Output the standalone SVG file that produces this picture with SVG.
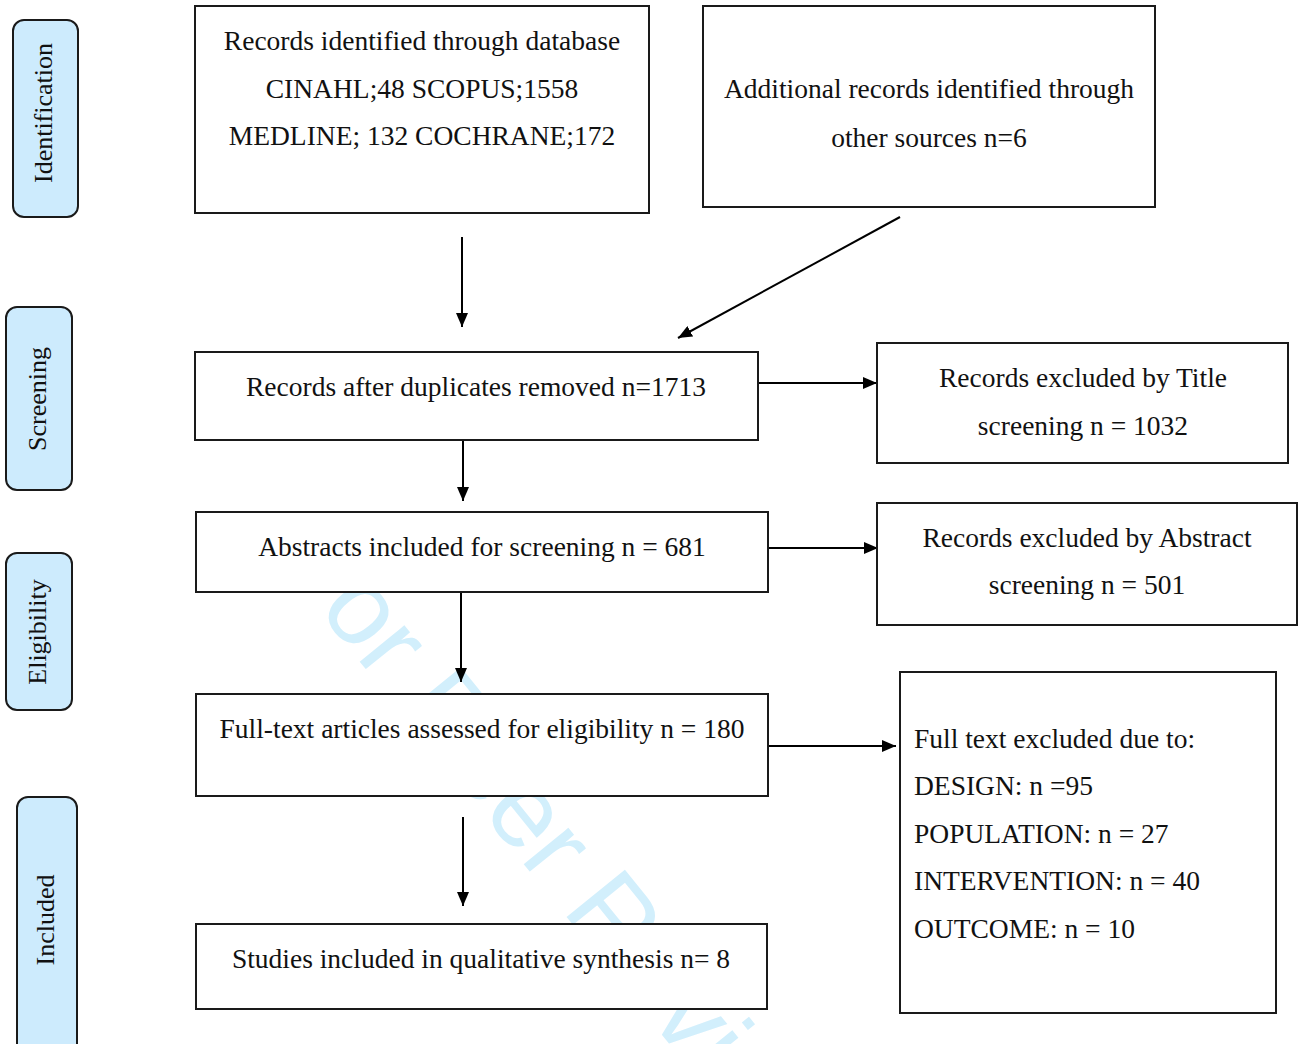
<svg xmlns="http://www.w3.org/2000/svg" width="1306" height="1044" viewBox="0 0 1306 1044">
<style>
.box{fill:#fff;stroke:#1a1a1a;stroke-width:2}
.lab{fill:#cdebfd;stroke:#1a1a1a;stroke-width:2}
.t{font-family:"Liberation Serif","Times New Roman",serif;font-size:27.5px;fill:#111}
.s{font-size:26px}
.c{text-anchor:middle}
.wm{font-family:"Liberation Sans",Arial,sans-serif;font-size:109px;fill:#d2effc}
.ln{stroke:#000;stroke-width:2;fill:none;marker-end:url(#ah)}
</style>
<defs>
<marker id="ah" viewBox="0 0 14 12" refX="14" refY="6" markerWidth="14" markerHeight="12" markerUnits="userSpaceOnUse" orient="auto">
<path d="M0,0 L14,6 L0,12 Z" fill="#000"/>
</marker>
</defs>
<rect width="1306" height="1044" fill="#fff"/>
<text class="wm" transform="translate(275,557) rotate(51)">For Peer Review</text>

<g id="stage-identification"><rect class="lab" x="13" y="20" width="65" height="197" rx="11"/><text class="t s c" transform="translate(52,113) rotate(-90)">Identification</text></g>
<g id="stage-screening"><rect class="lab" x="6" y="307" width="66" height="183" rx="11"/><text class="t s c" transform="translate(46,399) rotate(-90)">Screening</text></g>
<g id="stage-eligibility"><rect class="lab" x="6" y="553" width="66" height="157" rx="11"/><text class="t s c" transform="translate(46,632) rotate(-90)">Eligibility</text></g>
<g id="stage-included"><rect class="lab" x="17" y="797" width="60" height="270" rx="11"/><text class="t s c" transform="translate(54,920) rotate(-90)">Included</text></g>

<g id="connectors">
<line class="ln" x1="462" y1="237" x2="462" y2="327"/>
<line class="ln" x1="900" y1="217" x2="678" y2="338"/>
<line class="ln" x1="758" y1="383" x2="877" y2="383"/>
<line class="ln" x1="463" y1="440" x2="463" y2="501"/>
<line class="ln" x1="768" y1="548" x2="878" y2="548"/>
<line class="ln" x1="461" y1="592" x2="461" y2="682"/>
<line class="ln" x1="768" y1="746" x2="896" y2="746"/>
<line class="ln" x1="463" y1="817" x2="463" y2="906"/>
</g>

<g id="n-database"><rect class="box" x="195" y="6" width="454" height="207"/>
<text class="t c" x="422" y="50">Records identified through database</text>
<text class="t c" x="422" y="98">CINAHL;48 SCOPUS;1558</text>
<text class="t c" x="422" y="145">MEDLINE; 132 COCHRANE;172</text></g>

<g id="n-other"><rect class="box" x="703" y="6" width="452" height="201"/>
<text class="t c" x="929" y="98">Additional records identified through</text>
<text class="t c" x="929" y="147">other sources n=6</text></g>

<g id="n-dedup"><rect class="box" x="195" y="352" width="563" height="88"/>
<text class="t c" x="476" y="396">Records after duplicates removed n=1713</text></g>

<g id="n-excl-title"><rect class="box" x="877" y="343" width="411" height="120"/>
<text class="t c" x="1083" y="387">Records excluded by Title</text>
<text class="t c" x="1083" y="435">screening n = 1032</text></g>

<g id="n-abstracts"><rect class="box" x="196" y="512" width="572" height="80"/>
<text class="t c" x="482" y="556">Abstracts included for screening n = 681</text></g>

<g id="n-excl-abstract"><rect class="box" x="877" y="503" width="420" height="122"/>
<text class="t c" x="1087" y="547">Records excluded by Abstract</text>
<text class="t c" x="1087" y="594">screening n = 501</text></g>

<g id="n-fulltext"><rect class="box" x="196" y="694" width="572" height="102"/>
<text class="t c" x="482" y="738">Full-text articles assessed for eligibility n = 180</text></g>

<g id="n-excl-fulltext"><rect class="box" x="900" y="672" width="376" height="341"/>
<text class="t" x="914" y="748">Full text excluded due to:</text>
<text class="t" x="914" y="795">DESIGN: n =95</text>
<text class="t" x="914" y="843">POPULATION: n = 27</text>
<text class="t" x="914" y="890">INTERVENTION: n = 40</text>
<text class="t" x="914" y="938">OUTCOME: n = 10</text></g>

<g id="n-included"><rect class="box" x="196" y="924" width="571" height="85"/>
<text class="t c" x="481" y="968">Studies included in qualitative synthesis n= 8</text></g>
</svg>
